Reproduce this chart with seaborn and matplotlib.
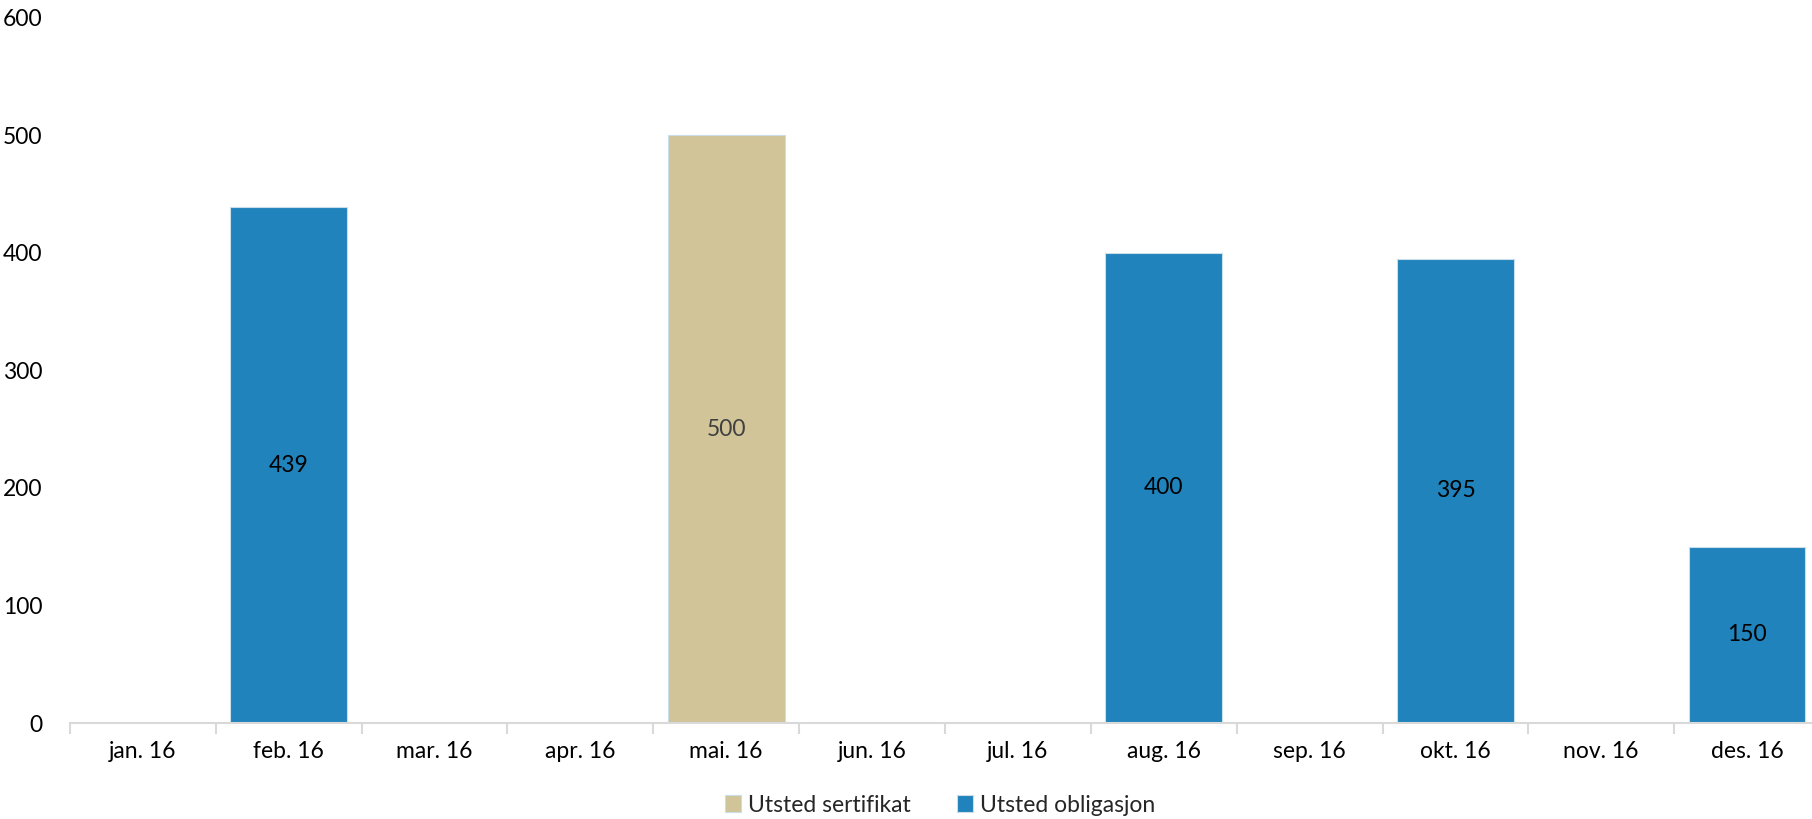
import pandas as pd
import matplotlib.pyplot as plt
import seaborn as sns
from matplotlib.ticker import FixedLocator

months = ['jan. 16', 'feb. 16', 'mar. 16', 'apr. 16', 'mai. 16', 'jun. 16',
          'jul. 16', 'aug. 16', 'sep. 16', 'okt. 16', 'nov. 16', 'des. 16']
sertifikat = [None, None, None, None, 500, None, None, None, None, None, None, None]
obligasjon = [None, 439, None, None, None, None, None, 400, None, 395, None, 150]
series_names = ['Utsted sertifikat', 'Utsted obligasjon']
colors = ['#D0C498', '#2083BC']

sns.set_theme(style='white')
plt.rcParams['font.family'] = ['Lato', 'DejaVu Sans']
fs = 16.5

df = pd.DataFrame({'month': months, series_names[0]: sertifikat, series_names[1]: obligasjon})
long = df.melt(id_vars='month', var_name='serie', value_name='verdi').dropna()

fig = plt.figure(figsize=(18.12, 8.19), dpi=100)
ax = fig.add_axes([70 / 1812, 1 - 723 / 819, 1750 / 1812, 705 / 819])

sns.barplot(data=long, x='month', y='verdi', hue='serie', order=months,
            hue_order=series_names, palette=colors, saturation=1, dodge=False, width=0.8,
            edgecolor='#C9DDEB', linewidth=0.8, ax=ax)

# verdietiketter midt i stolpene
label_colors = ['#404040', 'black']
for cont, c in zip(ax.containers, label_colors):
    ax.bar_label(cont, fmt='%.0f', label_type='center', fontsize=fs, color=c)

ax.set_xlim(-0.5, len(months) - 0.5)
ax.set_ylim(0, 600)
ax.set_yticks(range(0, 601, 100))
ax.set_xlabel('')
ax.set_ylabel('')

for s in ['top', 'right', 'left']:
    ax.spines[s].set_visible(False)
ax.spines['bottom'].set_color('#D9D9D9')
ax.spines['bottom'].set_linewidth(1.5)

ax.tick_params(axis='y', length=0, pad=20, labelsize=fs, labelcolor='black')
ax.tick_params(axis='x', which='major', length=0, pad=13, labelsize=fs, labelcolor='black')
ax.xaxis.set_minor_locator(FixedLocator([i - 0.5 for i in range(len(months) + 1)]))
ax.tick_params(axis='x', which='minor', bottom=True, length=8, width=1.5, color='#D9D9D9', direction='out')

handles, labels = ax.get_legend_handles_labels()
ax.get_legend().remove()
fig.legend(handles, labels, loc='center', bbox_to_anchor=(940 / 1812, 1 - 805 / 819),
           ncol=2, frameon=False, fontsize=fs, handlelength=0.7, handleheight=0.7,
           handletextpad=0.3, columnspacing=2.0)

fig.savefig('out.png', dpi=100)
